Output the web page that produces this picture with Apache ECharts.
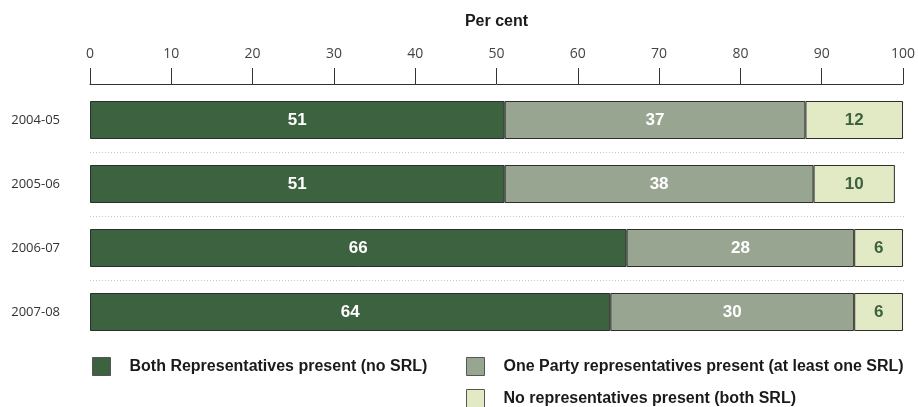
<!DOCTYPE html>
<html>
<head>
<meta charset="utf-8">
<script src="https://cdn.jsdelivr.net/npm/echarts@6/dist/echarts.min.js"></script>
<style>
  html, body { margin: 0; padding: 0; background: #fff; }
  #chart { width: 918px; height: 407px; }
</style>
</head>
<body>
<div id="chart"></div>
<script>
// Financial years shown on the vertical axis
const years = ['2004-05', '2005-06', '2006-07', '2007-08'];

// Share of hearings by representation (per cent)
const bothPresent = [51, 51, 66, 64];
const onePartyPresent = [37, 38, 28, 30];
const nonePresent = [12, 10, 6, 6];

const seriesNames = [
  'Both Representatives present (no SRL)',
  'One Party representatives present (at least one SRL)',
  'No representatives present (both SRL)'
];

// Horizontal axis ticks
const xTicks = [0, 10, 20, 30, 40, 50, 60, 70, 80, 90, 100];

const DARK = '#3d6240';
const MID = '#98a591';
const LIGHT = '#e1eac4';
const EDGE = '#2e2e2e';

const boldFont = 'Liberation Sans Narrow, Arial Narrow, Liberation Sans, sans-serif';
const bodyFont = 'Open Sans, Noto Sans, sans-serif';

// Plot area; one band per year
const GRID = { left: 90, right: 13, top: 88, bottom: 63 };
const BAND = (407 - GRID.top - GRID.bottom) / years.length;

function barSeries(name, data, color, labelColor) {
  return {
    name: name,
    type: 'bar',
    stack: 'total',
    data: data,
    barWidth: 38,
    itemStyle: { color: color, borderColor: EDGE, borderWidth: 1 },
    label: {
      show: true,
      position: 'inside',
      color: labelColor,
      fontFamily: boldFont,
      fontWeight: 'bold',
      fontSize: 17
    },
    emphasis: { disabled: true }
  };
}

function legendItem(name, left, top) {
  return {
    data: [name],
    left: left,
    top: top,
    orient: 'horizontal',
    itemWidth: 18,
    itemHeight: 18,
    icon: 'rect',
    selectedMode: false,
    itemStyle: { borderColor: '#555', borderWidth: 1 },
    textStyle: {
      fontFamily: boldFont,
      fontWeight: 'bold',
      fontSize: 16,
      color: '#1a1a1a',
      padding: [0, 0, 0, 14]
    }
  };
}

const chart = echarts.init(document.getElementById('chart'), null, { renderer: 'canvas' });

chart.setOption({
  animation: false,
  grid: [
    GRID,
    // inner band boundaries only: used for the dotted separators between years
    {
      left: GRID.left,
      right: GRID.right,
      top: GRID.top + BAND,
      bottom: GRID.bottom + BAND
    }
  ],
  legend: [
    legendItem(seriesNames[0], 87, 352),
    legendItem(seriesNames[1], 461, 352),
    legendItem(seriesNames[2], 461, 384)
  ],
  xAxis: [
    {
      type: 'value',
      position: 'top',
      min: xTicks[0],
      max: xTicks[xTicks.length - 1],
      interval: 10,
      offset: 4,
      name: 'Per cent',
      nameLocation: 'middle',
      nameGap: 54,
      nameTextStyle: { fontFamily: boldFont, fontWeight: 'bold', fontSize: 16, color: '#1a1a1a' },
      axisLine: { show: true, lineStyle: { color: '#333', width: 1 } },
      axisTick: { show: true, length: 16, lineStyle: { color: '#333' } },
      axisLabel: { margin: 23, fontFamily: bodyFont, fontSize: 14, color: '#444' },
      splitLine: { show: false }
    },
    {
      type: 'value',
      gridIndex: 1,
      min: 0,
      max: 100,
      show: false
    }
  ],
  yAxis: [
    {
      type: 'category',
      data: years,
      inverse: true,
      axisLine: { show: false },
      axisTick: { show: false },
      axisLabel: { margin: 30, fontFamily: bodyFont, fontSize: 13, color: '#333' },
      splitLine: { show: false }
    },
    {
      type: 'value',
      gridIndex: 1,
      min: 0,
      max: years.length - 2,
      interval: 1,
      axisLine: { show: false },
      axisTick: { show: false },
      axisLabel: { show: false },
      splitLine: {
        show: true,
        lineStyle: { color: '#c8c8c8', type: [1, 2], width: 1 }
      }
    }
  ],
  series: [
    barSeries(seriesNames[0], bothPresent, DARK, '#ffffff'),
    barSeries(seriesNames[1], onePartyPresent, MID, '#ffffff'),
    barSeries(seriesNames[2], nonePresent, LIGHT, DARK)
  ]
});
</script>
</body>
</html>
